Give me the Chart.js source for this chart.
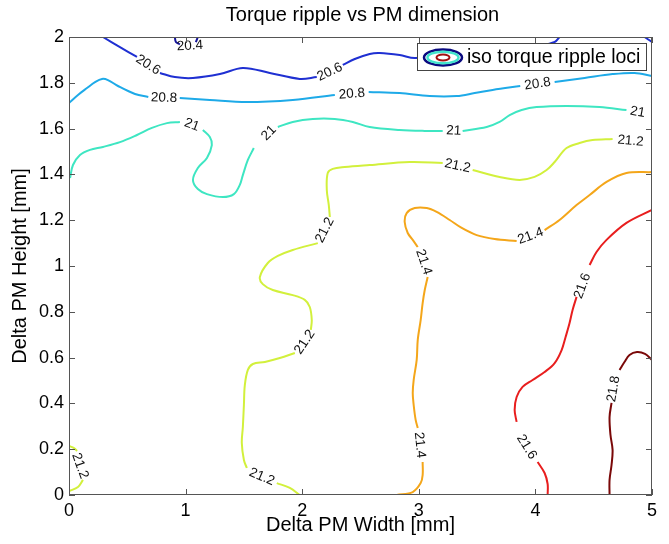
<!DOCTYPE html>
<html lang="en">
<head>
<meta charset="UTF-8" />
<title>Torque ripple vs PM dimension</title>
<script src="https://cdn.jsdelivr.net/npm/chart.js"></script>
<style>
  html, body { margin: 0; padding: 0; background: #fff; }
</style>
</head>
<body>
<canvas id="chart" width="669" height="544"></canvas>
<script>
// contour levels and their lines, [width, height] pairs, null = gap for a label
const levels = ["20.4", "20.6", "20.8", "21", "21.2", "21.4", "21.6", "21.8"];
const levelColors = ["#14149a", "#1f30d2", "#1eaae8", "#3ee6c2", "#d2f03c", "#f4a61a", "#e81e1e", "#7a0808"];

const line204 = [[0.908, 2.0], [0.917, 1.978], [0.951, 1.968], null, [1.088, 1.978], [1.105, 2.0]];
const line206 = [
  [0.291, 2.0], [0.437, 1.956], [0.583, 1.913], null,
  [0.780, 1.843], [0.908, 1.825], [1.063, 1.821], [1.294, 1.838], [1.491, 1.865],
  [1.722, 1.843], [1.979, 1.817], [2.125, 1.825], null,
  [2.348, 1.878], [2.451, 1.904], [2.579, 1.926], [2.665, 1.930], [2.836, 1.921],
  [2.965, 1.908], [3.436, 1.921], [3.950, 1.952], [4.165, 1.978], [4.207, 2.0], null,
  [4.936, 2.0], [5.0, 1.978]
];
const line208 = [
  [0, 1.712], [0.077, 1.747], [0.154, 1.777], [0.223, 1.803], [0.283, 1.817],
  [0.334, 1.812], [0.420, 1.786], [0.566, 1.751], [0.680, 1.738], null,
  [0.950, 1.734], [1.208, 1.725], [1.525, 1.716], [1.919, 1.725], [2.280, 1.747], null,
  [2.570, 1.760], [2.836, 1.755], [3.093, 1.742], [3.325, 1.742], [3.479, 1.755],
  [3.633, 1.769], [3.870, 1.786], null,
  [4.165, 1.803], [4.422, 1.821], [4.662, 1.838], [4.850, 1.843], [5.0, 1.830]
];
const line21 = [
  [0.009, 1.384], [0.034, 1.441], [0.094, 1.485], [0.180, 1.507], [0.291, 1.520],
  [0.437, 1.541], [0.583, 1.572], [0.711, 1.603], [0.840, 1.624], [0.951, 1.629], null,
  [1.148, 1.594], [1.208, 1.563], [1.225, 1.528], [1.183, 1.472], [1.105, 1.428],
  [1.063, 1.376], [1.105, 1.336], [1.183, 1.314], [1.320, 1.301], [1.414, 1.314],
  [1.465, 1.354], [1.491, 1.397], [1.534, 1.463], [1.585, 1.515], null,
  [1.791, 1.607], [1.919, 1.629], [2.091, 1.642], [2.279, 1.642], [2.434, 1.629],
  [2.579, 1.607], [2.836, 1.594], [3.051, 1.590], [3.205, 1.590], null,
  [3.376, 1.590], [3.582, 1.607], [3.693, 1.629], [3.779, 1.659], [3.882, 1.681],
  [4.010, 1.694], [4.267, 1.699], [4.550, 1.694], [4.781, 1.681], null,
  [5.0, 1.659]
];
const line212 = [
  [5.0, 1.533], null,
  [4.662, 1.555], [4.490, 1.550], [4.379, 1.537], [4.267, 1.515], [4.165, 1.454],
  [4.096, 1.419], [3.993, 1.389], [3.865, 1.376], [3.693, 1.389], [3.462, 1.419], null,
  [3.205, 1.450], [2.922, 1.454], [2.579, 1.441], [2.365, 1.432], [2.262, 1.424],
  [2.219, 1.406], [2.211, 1.332], [2.228, 1.266], [2.237, 1.214], null,
  [2.134, 1.100], [1.919, 1.070], [1.791, 1.044], [1.705, 1.013], [1.637, 0.952],
  [1.662, 0.921], [1.748, 0.895], [1.919, 0.873], [2.022, 0.852], [2.065, 0.821],
  [2.082, 0.764], [2.074, 0.721], null,
  [1.937, 0.620], [1.808, 0.598], [1.680, 0.581], [1.577, 0.572], [1.534, 0.546],
  [1.508, 0.480], [1.500, 0.393], [1.491, 0.297], [1.482, 0.227], [1.500, 0.153],
  [1.525, 0.118], null,
  [1.782, 0.052], [1.894, 0.031], [1.979, 0], null,
  [0, 0.214], [0.043, 0.205], [0.069, 0.192], null,
  [0.120, 0.066], [0.077, 0.035], [0, 0.017]
];
const line214 = [
  [5.0, 1.410], [4.781, 1.406], [4.610, 1.367], [4.465, 1.310], [4.353, 1.266],
  [4.207, 1.201], [4.079, 1.157], null,
  [3.839, 1.109], [3.650, 1.118], [3.496, 1.135], [3.368, 1.166], [3.265, 1.201],
  [3.153, 1.236], [3.068, 1.253], [2.965, 1.253], [2.896, 1.231], [2.879, 1.192],
  [2.905, 1.144], [2.948, 1.114], [2.991, 1.083], null,
  [3.076, 0.952], [3.051, 0.895], [3.033, 0.838], [3.016, 0.764], [2.991, 0.677],
  [2.982, 0.590], [2.956, 0.502], [2.948, 0.445], [2.956, 0.393], [2.973, 0.328],
  [2.991, 0.293], null,
  [3.033, 0.144], [3.033, 0.087], [3.016, 0.052], [2.948, 0.013], [2.811, 0]
];
const line216 = [
  [5.0, 1.245], [4.781, 1.188], [4.610, 1.114], [4.524, 1.061], [4.465, 1.004], null,
  [4.353, 0.865], [4.319, 0.808], [4.293, 0.751], [4.259, 0.690], [4.225, 0.633],
  [4.165, 0.576], [4.079, 0.537], [3.976, 0.502], [3.890, 0.472], [3.839, 0.428],
  [3.822, 0.371], [3.839, 0.319], null,
  [4.019, 0.144], [4.079, 0.096], [4.105, 0.048], [4.105, 0]
];
const line218 = [
  [5.0, 0.590], [4.940, 0.616], [4.871, 0.624], [4.807, 0.611], [4.764, 0.581],
  [4.722, 0.546], null,
  [4.653, 0.402], [4.636, 0.341], [4.644, 0.262], [4.662, 0.197], [4.653, 0.131],
  [4.636, 0.066], [4.636, 0]
];
const contourLines = [line204, line206, line208, line21, line212, line214, line216, line218];

// inline labels: level, width, height, text angle (deg)
const labelSpots = [
  ["20.4", 1.037, 1.961, -3],
  ["20.6", 0.677, 1.878, 33], ["20.6", 2.237, 1.847, -25],
  ["20.8", 0.814, 1.734, 2], ["20.8", 2.425, 1.751, -4], ["20.8", 4.019, 1.795, -8],
  ["21", 1.054, 1.616, 20], ["21", 1.714, 1.581, -45], ["21", 3.299, 1.590, 3], ["21", 4.876, 1.672, 10],
  ["21.2", 4.816, 1.546, 5], ["21.2", 3.333, 1.437, 12], ["21.2", 2.194, 1.157, -63],
  ["21.2", 2.022, 0.668, -56], ["21.2", 1.654, 0.079, 23], ["21.2", 0.094, 0.127, 70],
  ["21.4", 3.959, 1.131, -20], ["21.4", 3.042, 1.017, 72], ["21.4", 3.008, 0.218, 84],
  ["21.6", 4.404, 0.913, -70], ["21.6", 3.925, 0.210, 58],
  ["21.8", 4.670, 0.463, -80]
];

const xTicks = [0, 1, 2, 3, 4, 5];
const yTicks = [0, 0.2, 0.4, 0.6, 0.8, 1, 1.2, 1.4, 1.6, 1.8, 2];

const fontFamily = "'Liberation Sans', Arial, Helvetica, sans-serif";

function toPoints(arr) {
  const pts = [];
  let lastX = 0;
  arr.forEach(p => {
    if (p === null) pts.push({ x: lastX, y: null });
    else { lastX = p[0]; pts.push({ x: p[0], y: p[1] }); }
  });
  return pts;
}

const datasets = contourLines.map((arr, i) => ({
  label: levels[i],
  data: toPoints(arr),
  showLine: true,
  borderColor: levelColors[i],
  borderWidth: 2,
  pointRadius: 0,
  tension: 0.35,
  spanGaps: false
}));

const frame = {
  id: "frame",
  afterDatasetsDraw(chart) {
    const { ctx, chartArea: a, scales: { x, y } } = chart;
    ctx.save();

    // contour labels
    ctx.font = "13.5px " + fontFamily;
    ctx.fillStyle = "#111";
    ctx.textAlign = "center";
    ctx.textBaseline = "middle";
    labelSpots.forEach(([t, lx, ly, ang]) => {
      ctx.save();
      ctx.translate(x.getPixelForValue(lx), y.getPixelForValue(ly));
      ctx.rotate(ang * Math.PI / 180);
      ctx.fillText(t, 0, 0);
      ctx.restore();
    });

    // title, centred over the axes
    ctx.fillStyle = "#000";
    ctx.font = "20px " + fontFamily;
    ctx.fillText("Torque ripple vs PM dimension", (a.left + a.right) / 2 + 2, 15);

    // axes box with inward ticks
    ctx.strokeStyle = "#555";
    ctx.lineWidth = 1;
    ctx.strokeRect(a.left + 0.5, a.top + 0.5, a.right - a.left - 1, a.bottom - a.top - 1);
    ctx.beginPath();
    xTicks.forEach(v => {
      const px = Math.round(x.getPixelForValue(v)) + 0.5;
      ctx.moveTo(px, a.bottom); ctx.lineTo(px, a.bottom - 6);
      ctx.moveTo(px, a.top); ctx.lineTo(px, a.top + 6);
    });
    yTicks.forEach(v => {
      const py = Math.round(y.getPixelForValue(v)) + 0.5;
      ctx.moveTo(a.left, py); ctx.lineTo(a.left + 6, py);
      ctx.moveTo(a.right, py); ctx.lineTo(a.right - 6, py);
    });
    ctx.stroke();

    // legend box
    const lx = a.right - 235, ly = a.top + 6, lw = 229, lh = 27;
    ctx.fillStyle = "#fff";
    ctx.fillRect(lx, ly, lw, lh);
    ctx.strokeStyle = "#444";
    ctx.strokeRect(lx + 0.5, ly + 0.5, lw, lh);
    const cx = lx + 26, cy = ly + lh / 2 + 1;
    ctx.lineWidth = 2.5;
    ctx.strokeStyle = "#0a0a80";
    ctx.beginPath(); ctx.ellipse(cx, cy, 19, 8, 0, 0, Math.PI * 2); ctx.stroke();
    ctx.strokeStyle = "#44e4cc";
    ctx.beginPath(); ctx.ellipse(cx, cy, 15.5, 5.8, 0, 0, Math.PI * 2); ctx.stroke();
    ctx.lineWidth = 2;
    ctx.strokeStyle = "#a01010";
    ctx.beginPath(); ctx.ellipse(cx, cy, 6.5, 3, 0, 0, Math.PI * 2); ctx.stroke();
    ctx.fillStyle = "#000";
    ctx.font = "19.5px " + fontFamily;
    ctx.textAlign = "left";
    ctx.fillText("iso torque ripple loci", lx + 50, cy);

    ctx.restore();
  }
};

new Chart(document.getElementById("chart"), {
  type: "scatter",
  data: { datasets },
  options: {
    responsive: false,
    animation: false,
    layout: { padding: { left: 0, right: 17, top: 37, bottom: 0 } },
    plugins: {
      legend: { display: false },
      tooltip: { enabled: false },
      title: { display: false }
    },
    scales: {
      x: {
        type: "linear",
        min: 0,
        max: 5,
        afterFit: s => { s.height = 49; },
        afterBuildTicks: s => { s.ticks = xTicks.map(v => ({ value: v })); },
        grid: { display: false, drawTicks: false },
        border: { display: false },
        ticks: { color: "#000", padding: 5, font: { family: fontFamily, size: 18 } },
        title: {
          display: true,
          text: "Delta PM Width [mm]",
          color: "#000",
          font: { family: fontFamily, size: 20 },
          padding: { top: 0, bottom: 7 }
        }
      },
      y: {
        type: "linear",
        min: 0,
        max: 2,
        afterFit: s => { s.width = 69; },
        afterBuildTicks: s => { s.ticks = yTicks.map(v => ({ value: v })); },
        grid: { display: false, drawTicks: false },
        border: { display: false },
        ticks: {
          color: "#000",
          padding: 5,
          font: { family: fontFamily, size: 18 },
          callback: v => String(+v.toFixed(1))
        },
        title: {
          display: true,
          text: "Delta PM Height [mm]",
          color: "#000",
          font: { family: fontFamily, size: 20 },
          padding: { top: 8, bottom: 8 }
        }
      }
    }
  },
  plugins: [frame]
});
</script>
</body>
</html>
